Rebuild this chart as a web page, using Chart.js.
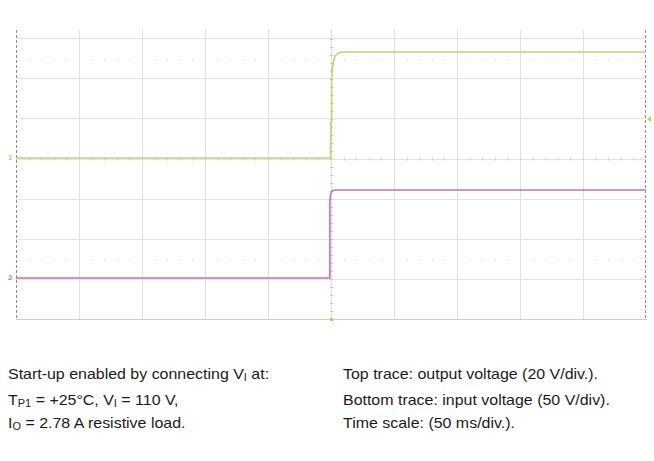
<!DOCTYPE html>
<html>
<head>
<meta charset="utf-8">
<script src="https://cdn.jsdelivr.net/npm/chart.js@4.4.1/dist/chart.umd.min.js"></script>
<style>
  html, body { margin: 0; padding: 0; background: #fff; }
  body { width: 654px; height: 461px; position: relative; overflow: hidden;
         font-family: "Liberation Sans", Arial, sans-serif; color: #1a1a1a; }
  #wrap { position: absolute; left: 0; top: 0; width: 654px; height: 330px; }
  .ln { position: absolute; font-size: 14.5px; line-height: 17px; white-space: nowrap;
        transform: scaleX(1.1); transform-origin: 0 50%; }
  .ln sub { font-size: 10px; vertical-align: baseline; position: relative; top: 2px; }
</style>
</head>
<body>
<div id="wrap"><canvas id="c" width="654" height="330"></canvas></div>
<div class="ln" style="left:8px; top:366px;">Start-up enabled by connecting V<sub>I</sub> at:</div>
<div class="ln" style="left:8px; top:392px;">T<sub>P1</sub> = +25°C, V<sub>I</sub> = 110 V,</div>
<div class="ln" style="left:8px; top:415px;">I<sub>O</sub> = 2.78 A resistive load.</div>
<div class="ln" style="left:343px; top:366px;">Top trace: output voltage (20 V/div.).</div>
<div class="ln" style="left:343px; top:392px;">Bottom trace: input voltage (50 V/div).</div>
<div class="ln" style="left:343px; top:415px;">Time scale: (50 ms/div.).</div>
<script>
// Time in ms (50 ms/div)
const timeTicks = [0, 50, 100, 150, 200, 250, 300, 350, 400, 450, 500];
// Output voltage trace (top, 20 V/div)
const outTime = [0, 249.6, 250.0, 250.3, 250.7, 251.3, 252.2, 253.5, 255.5, 258, 265, 500];
const outVolt = [0, 0, 18, 32, 40, 45.5, 49, 51.2, 52.4, 52.9, 53, 53];
// Input voltage trace (bottom, 50 V/div)
const inTime = [0, 248.6, 248.9, 249.2, 249.6, 250.3, 251.5, 254, 500];
const inVolt = [0, 0, 55, 96, 104, 107.5, 109.3, 110, 110];
// vertical division grid (8 divisions, screen cropped at top)
const divTicks = [0, 1, 2, 3, 4, 5, 6, 7];

const yellow = '#cbcd73';
const pink = '#c872ad';

const scopePlugin = {
  id: 'scope',
  beforeDatasetsDraw(chart) {
    const ctx = chart.ctx, a = chart.chartArea;
    const x = chart.scales.x, g = chart.scales.y;
    ctx.save();
    // dashed left / right borders
    ctx.strokeStyle = '#8f8f8f'; ctx.lineWidth = 1; ctx.setLineDash([3, 2]);
    [Math.round(a.left) + 0.5, Math.round(a.right) - 0.5].forEach(px => {
      ctx.beginPath(); ctx.moveTo(px, a.top); ctx.lineTo(px, a.bottom); ctx.stroke();
    });
    ctx.setLineDash([]);
    // minor ticks on centre vertical line
    ctx.strokeStyle = '#c4c4c4';
    const cx = Math.round(x.getPixelForValue(250)) + 0.5;
    for (let v = 0.2; v <= 7.2; v += 0.2) {
      const py = Math.round(g.getPixelForValue(v)) + 0.5;
      ctx.beginPath(); ctx.moveTo(cx - 1.5, py); ctx.lineTo(cx + 1.5, py); ctx.stroke();
    }
    // minor tick rows
    [4, 1.5, 6.5].forEach((row, k) => {
      const py = Math.round(g.getPixelForValue(row));
      ctx.fillStyle = k === 0 ? '#d2d2d2' : '#e2e2e2';
      for (let t = 10; t < 500; t += 10) {
        const px = Math.round(x.getPixelForValue(t));
        if (k === 0) ctx.fillRect(px, py - 1.5, 1, 3);
        else ctx.fillRect(px, py, 1, 1.5);
      }
    });
    ctx.restore();
  },
  afterDatasetsDraw(chart) {
    const ctx = chart.ctx, a = chart.chartArea;
    const x = chart.scales.x, g = chart.scales.y;
    ctx.save();
    const cx = Math.round(x.getPixelForValue(250)) + 0.5;
    // ground markers
    const yo = chart.scales.yOut.getPixelForValue(0);
    const yi = chart.scales.yIn.getPixelForValue(0);
    ctx.font = 'bold 8px "Liberation Sans", Arial';
    ctx.textBaseline = 'middle';
    ctx.fillStyle = yellow; ctx.fillText('1', a.left - 8, yo);
    ctx.fillStyle = pink; ctx.fillText('2', a.left - 8, yi);
    // trigger level marker on the right
    const ty = g.getPixelForValue(5);
    ctx.fillStyle = '#c9cc5a';
    ctx.beginPath(); ctx.moveTo(a.right + 1, ty); ctx.lineTo(a.right + 5, ty - 3); ctx.lineTo(a.right + 5, ty + 3); ctx.closePath(); ctx.fill();
    // trigger position marker at bottom
    ctx.fillStyle = '#b9cc55';
    ctx.fillRect(cx - 1.5, a.bottom - 1, 3, 3);
    ctx.restore();
  }
};

new Chart(document.getElementById('c'), {
  type: 'line',
  data: {
    datasets: [
      { label: 'Output voltage', yAxisID: 'yOut',
        data: outTime.map((t, i) => ({ x: t, y: outVolt[i] })),
        borderColor: yellow, borderWidth: 1.6, pointRadius: 0, tension: 0 },
      { label: 'Input voltage', yAxisID: 'yIn',
        data: inTime.map((t, i) => ({ x: t, y: inVolt[i] })),
        borderColor: pink, borderWidth: 1.6, pointRadius: 0, tension: 0 }
    ]
  },
  options: {
    responsive: false, animation: false,
    layout: { padding: { left: 16, right: 8, top: 30, bottom: 11 } },
    plugins: { legend: { display: false }, tooltip: { enabled: false } },
    scales: {
      x: { type: 'linear', min: 0, max: 500,
        afterBuildTicks: s => { s.ticks = timeTicks.map(v => ({ value: v })); },
        ticks: { display: false },
        grid: { drawTicks: false, color: c => (c.index === 0 || c.index === timeTicks.length - 1) ? 'rgba(0,0,0,0)' : '#e1e1e1' },
        border: { display: true, color: '#cdcdcd' } },
      y: { type: 'linear', min: 0, max: 7.225,
        afterBuildTicks: s => { s.ticks = divTicks.map(v => ({ value: v })); },
        ticks: { display: false },
        grid: { drawTicks: false, color: c => c.index === 0 ? 'rgba(0,0,0,0)' : '#e4e4e4' },
        border: { display: false } },
      yOut: { type: 'linear', display: false, min: -80.5, max: 64 },
      yIn: { type: 'linear', display: false, min: -51.25, max: 310 }
    }
  },
  plugins: [scopePlugin]
});
</script>
</body>
</html>
